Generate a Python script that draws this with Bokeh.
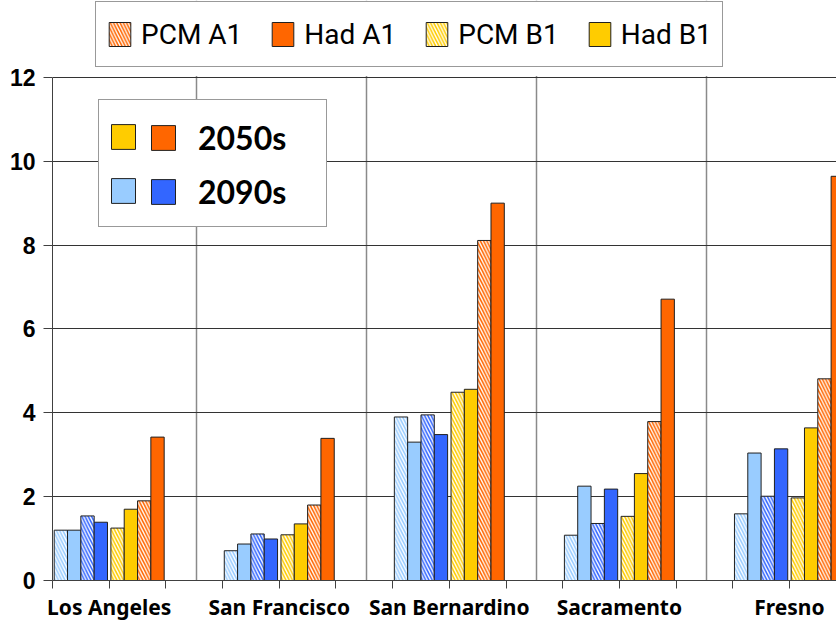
from bokeh.plotting import figure
from bokeh.models import (ColumnDataSource, FixedTicker, Legend, LegendItem, Range1d,
                          BoxAnnotation)
from bokeh.embed import file_html
from bokeh.resources import INLINE

# ---------------- data ----------------
cities = ["Los Angeles", "San Francisco", "San Bernardino", "Sacramento", "Fresno"]

pcm_b1_2090 = [1.20, 0.71, 3.90, 1.08, 1.59]
had_b1_2090 = [1.20, 0.87, 3.30, 2.25, 3.04]
pcm_a1_2090 = [1.54, 1.11, 3.95, 1.36, 2.01]
had_a1_2090 = [1.39, 0.99, 3.48, 2.18, 3.14]
pcm_b1_2050 = [1.25, 1.09, 4.49, 1.53, 1.97]
had_b1_2050 = [1.70, 1.35, 4.56, 2.55, 3.64]
pcm_a1_2050 = [1.90, 1.80, 8.11, 3.79, 4.81]
had_a1_2050 = [3.42, 3.39, 9.00, 6.71, 9.64]

y_ticks = [0, 2, 4, 6, 8, 10, 12]
y_max = 12

LIGHT_BLUE = "#99CCFF"
BLUE = "#3366FF"
YELLOW = "#FFCC00"
ORANGE = "#FF6600"
EDGE = "#202020"

# series: (name, values, period group, position in group, colour, hatched)
series = [
    ("pcm_b1_2090", pcm_b1_2090, 0, 0, LIGHT_BLUE, True),
    ("had_b1_2090", had_b1_2090, 0, 1, LIGHT_BLUE, False),
    ("pcm_a1_2090", pcm_a1_2090, 0, 2, BLUE, True),
    ("had_a1_2090", had_a1_2090, 0, 3, BLUE, False),
    ("pcm_b1_2050", pcm_b1_2050, 1, 0, YELLOW, True),
    ("had_b1_2050", had_b1_2050, 1, 1, YELLOW, False),
    ("pcm_a1_2050", pcm_a1_2050, 1, 2, ORANGE, True),
    ("had_a1_2050", had_a1_2050, 1, 3, ORANGE, False),
]

W, H = 836, 623
# frame spans the whole height above the x axis; the plotted area ends at y_max,
# the space above it holds the series legend
p = figure(width=W, height=H, output_backend="svg", toolbar_location=None,
           x_range=Range1d(0, 13.83), y_range=Range1d(0, 13.833),
           min_border_left=52, min_border_right=0, min_border_top=0,
           min_border_bottom=42)
p.outline_line_color = None
p.background_fill_color = "white"
p.border_fill_color = "white"

bar_w = 0.235
renderers = {}
for name, vals, grp, pos, col, hatched in series:
    xs = [3 * i + grp + 0.5 + (pos - 1.5) * bar_w for i in range(len(cities))]
    src = ColumnDataSource(dict(x=xs, top=vals))
    if hatched:
        r = p.vbar(x="x", top="top", bottom=0, width=bar_w, source=src,
                   fill_color="white", line_color=EDGE, line_width=1,
                   hatch_pattern="\\", hatch_color=col, hatch_scale=6.5,
                   hatch_weight=1.6)
    else:
        r = p.vbar(x="x", top="top", bottom=0, width=bar_w, source=src,
                   fill_color=col, line_color=EDGE, line_width=1)
    renderers[name] = r

# ---------------- axes ----------------
n_slots = 3 * len(cities)
xa = p.xaxis[0]
xa.ticker = FixedTicker(ticks=list(range(0, n_slots + 1)))
overrides = {t: "" for t in range(0, n_slots + 1)}
for i, c in enumerate(cities):
    overrides[3 * i + 1] = c
xa.major_label_overrides = overrides
xa.major_tick_in = 0
xa.major_tick_out = 8
xa.minor_tick_out = 0
xa.minor_tick_in = 0
xa.axis_line_color = "#404040"
xa.major_tick_line_color = "#404040"
xa.major_label_text_font = "Noto Sans"
xa.major_label_text_font_style = "bold"
xa.major_label_text_font_size = "21px"
xa.major_label_text_color = "black"
xa.major_label_standoff = 4

ya = p.yaxis[0]
ya.ticker = FixedTicker(ticks=y_ticks)
ya.bounds = (0, y_max)
ya.major_tick_in = 0
ya.major_tick_out = 9
ya.minor_tick_out = 0
ya.minor_tick_in = 0
ya.axis_line_color = "#404040"
ya.major_tick_line_color = "#404040"
ya.major_label_text_font = "Liberation Sans"
ya.major_label_text_font_style = "bold"
ya.major_label_text_font_size = "23px"
ya.major_label_text_color = "black"
ya.major_label_standoff = 8

p.ygrid[0].ticker = FixedTicker(ticks=y_ticks)
p.ygrid[0].grid_line_color = "#333333"
p.ygrid[0].grid_line_width = 1
p.xgrid[0].ticker = FixedTicker(ticks=[3 * i + 2.54 for i in range(len(cities) - 1)])
p.xgrid[0].grid_line_color = "#8a8a8a"
p.xgrid[0].grid_line_width = 1.5

# white mask over the strip above the plotted area (hides vertical grid lines there)
p.add_layout(BoxAnnotation(bottom=y_max + 0.03, fill_color="white", fill_alpha=1,
                           line_color=None))

# ---------------- top legend ----------------
top_items = [
    LegendItem(label="PCM A1", renderers=[renderers["pcm_a1_2050"]]),
    LegendItem(label="Had A1", renderers=[renderers["had_a1_2050"]]),
    LegendItem(label="PCM B1", renderers=[renderers["pcm_b1_2050"]]),
    LegendItem(label="Had B1", renderers=[renderers["had_b1_2050"]]),
]
leg_top = Legend(items=top_items, orientation="horizontal", location=(43, 513),
                 glyph_width=27, glyph_height=30, label_standoff=8,
                 spacing=27, padding=10, label_height=44,
                 label_text_font="Roboto", label_text_font_size="28px",
                 label_text_color="black",
                 border_line_color="#333333", border_line_width=1,
                 background_fill_color="white", background_fill_alpha=1)
p.add_layout(leg_top, "center")

# ---------------- inner legend (2050s / 2090s) ----------------
leg_a = Legend(items=[LegendItem(label=" ", renderers=[renderers["had_b1_2050"]]),
                      LegendItem(label=" ", renderers=[renderers["had_b1_2090"]])],
               orientation="vertical", location=(46, 353),
               glyph_width=30, glyph_height=31, label_standoff=0,
               label_width=179, label_height=54, spacing=0, padding=9,
               label_text_font_size="20px",
               border_line_color="#333333", border_line_width=1,
               background_fill_color="white", background_fill_alpha=1)
p.add_layout(leg_a, "center")

leg_b = Legend(items=[LegendItem(label="2050s", renderers=[renderers["had_a1_2050"]]),
                      LegendItem(label="2090s", renderers=[renderers["had_a1_2090"]])],
               orientation="vertical", location=(96, 362),
               glyph_width=30, glyph_height=31, label_standoff=20,
               label_height=54, spacing=0, padding=0,
               label_text_font="Lato", label_text_font_style="bold",
               label_text_font_size="32px", label_text_color="black",
               border_line_color=None, background_fill_alpha=0)
p.add_layout(leg_b, "center")

open("out.html", "w").write(file_html(p, INLINE))
